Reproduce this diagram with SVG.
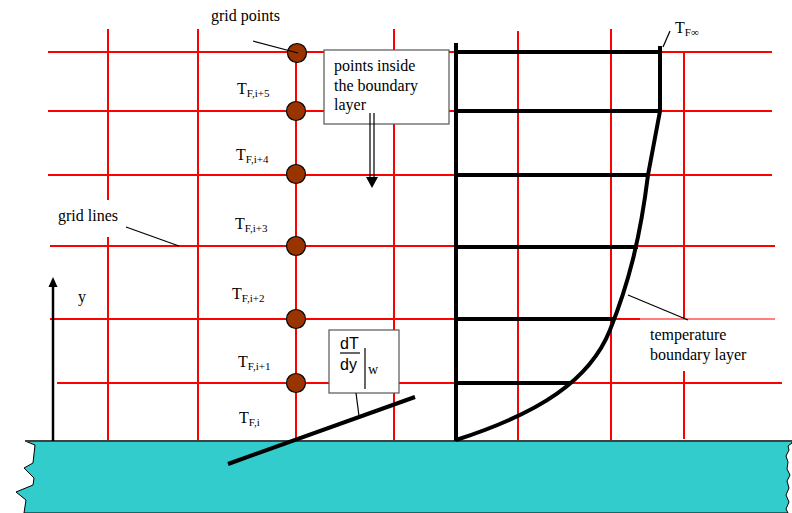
<svg xmlns="http://www.w3.org/2000/svg" width="792" height="513" viewBox="0 0 792 513">
<style>
.grid{stroke:#FF0000;stroke-width:2;fill:none}
.thick{stroke:#000;stroke-width:4;fill:none;stroke-linecap:butt}
.lead{stroke:#000;stroke-width:1.2;fill:none}
.t{font-family:"Liberation Serif","Times New Roman",serif;font-size:16px;fill:#000}
.sub{font-size:11px}
.s{font-family:"Liberation Sans",Arial,sans-serif;font-size:16px;fill:#000}
.pt{fill:#993300;stroke:#000;stroke-width:1.2}
.box{fill:#fff;stroke:#555;stroke-width:1.2}
</style>
<rect width="792" height="513" fill="#fff"/>
<g id="wall">
<path d="M25,441 L35,445 L33,463 L24,468 L34,478 L33,485 L16,492 L26,500 L24,513 L788,513 L786,509 L789,502 L786,495 L789,488 L787,481 L790,475 L787,469 L788,462 L786,456 L789,450 L788,446 L792,443 L792,441 Z" fill="#33CCCC" stroke="#000" stroke-width="1"/>
<line x1="25" y1="441" x2="792" y2="441" stroke="#404040" stroke-width="2"/>
</g>
<g id="grid-lines">
<path class="grid" d="M48,52H772 M48,111H772 M48,175H772 M50,246H775 M50,319H640 M57,383H782"/>
<path d="M640,319H775" stroke="#FF0000" stroke-width="1.2"/>
<path class="grid" d="M108,29V200 M108,237V440 M198,29V440 M296,52V440 M394,29V440 M518,31V440 M611,29V440 M684,53V319 M684,371V439"/>
</g>
<g id="y-axis">
<line x1="53" y1="441" x2="53" y2="285" stroke="#000" stroke-width="2.5"/>
<polygon points="53,277 48.5,287 57.5,287" fill="#000"/>
<text class="t" x="78" y="302">y</text>
</g>
<g id="profile">
<path class="thick" d="M456,43V441"/>
<path class="thick" d="M456,52H662 M456,111H660 M456,175H648 M456,247H638 M456,319H615 M458,383H570"/>
<path class="thick" d="M456,440 C540,413 590,380 610,330 C628,285 640,240 648,175 L660,111 L660,46"/>
</g>
<g id="grid-point-nodes">
<circle class="pt" cx="297" cy="53" r="9.5"/>
<circle class="pt" cx="296" cy="111" r="9.5"/>
<circle class="pt" cx="296" cy="174" r="9.5"/>
<circle class="pt" cx="296" cy="246" r="9.5"/>
<circle class="pt" cx="296" cy="319" r="9.5"/>
<circle class="pt" cx="296" cy="383" r="9.5"/>
</g>
<g id="temperature-labels">
<text class="t" x="237" y="94">T<tspan class="sub" dy="3">F,i+5</tspan></text>
<text class="t" x="236" y="160">T<tspan class="sub" dy="3">F,i+4</tspan></text>
<text class="t" x="235" y="229">T<tspan class="sub" dy="3">F,i+3</tspan></text>
<text class="t" x="232" y="299">T<tspan class="sub" dy="3">F,i+2</tspan></text>
<text class="t" x="238" y="367">T<tspan class="sub" dy="3">F,i+1</tspan></text>
<text class="t" x="239" y="423">T<tspan class="sub" dy="3">F,i</tspan></text>
<text class="t" x="675" y="33">T<tspan class="sub" dy="3">F∞</tspan></text>
</g>
<g id="label-grid-points">
<text class="t" x="211" y="21">grid points</text>
</g>
<g id="label-grid-lines">
<text class="t" x="58" y="221">grid lines</text>
</g>
<g id="label-boundary-points">
<rect class="box" x="324" y="50" width="125" height="74"/>
<text class="t" x="334" y="71">points inside</text>
<text class="t" x="334" y="91">the boundary</text>
<text class="t" x="334" y="110">layer</text>
</g>
<g id="label-gradient">
<rect class="box" x="329" y="330" width="70" height="63"/>
<text class="s" x="340" y="349">dT</text>
<line x1="340" y1="353" x2="360" y2="353" stroke="#000" stroke-width="1.2"/>
<text class="s" x="340" y="370">dy</text>
<line x1="365" y1="348" x2="365" y2="389" stroke="#000" stroke-width="1.2"/>
<text class="t" x="368" y="374" style="font-size:14px">w</text>
</g>
<g id="label-temperature-bl">
<text class="t" x="650" y="340">temperature</text>
<text class="t" x="650" y="360">boundary layer</text>
</g>
<g id="connectors">
<line class="lead" x1="253" y1="41" x2="298" y2="53"/>
<line class="lead" x1="126" y1="227" x2="179" y2="246"/>
<line class="lead" x1="663" y1="47" x2="670" y2="31"/>
<line class="lead" x1="628" y1="295" x2="688" y2="320"/>
<line class="lead" x1="356" y1="393" x2="359" y2="416"/>
<line x1="228" y1="464" x2="415" y2="397" stroke="#000" stroke-width="4"/>
<path d="M370,113V177 M374,113V177" stroke="#000" stroke-width="1.2" fill="none"/>
<polygon points="366,177 378,177 372,188" fill="#000"/>
</g>
</svg>
